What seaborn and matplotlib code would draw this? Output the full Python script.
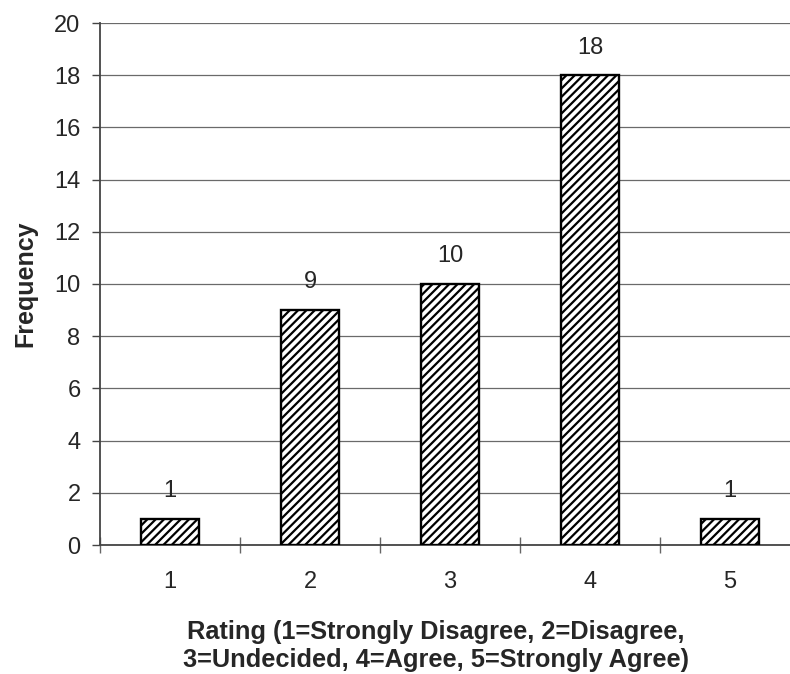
import matplotlib
matplotlib.use("Agg")
import matplotlib.pyplot as plt
import seaborn as sns
import pandas as pd
from matplotlib.ticker import FixedLocator

ratings = ["1", "2", "3", "4", "5"]
frequency = [1, 9, 10, 18, 1]
y_ticks = [0, 2, 4, 6, 8, 10, 12, 14, 16, 18, 20]

df = pd.DataFrame({"Rating": ratings, "Frequency": frequency})

sns.set_style("white")
plt.rcParams["font.family"] = ["Liberation Sans", "DejaVu Sans"]
plt.rcParams["hatch.linewidth"] = 1.6
plt.rcParams["hatch.color"] = "black"

fig = plt.figure(figsize=(7.9, 6.74), dpi=100)
ax = fig.add_axes([100 / 790, 1 - 545 / 674, 700 / 790, 522 / 674])

sns.barplot(data=df, x="Rating", y="Frequency", ax=ax, color="white",
            width=0.41, edgecolor="black", linewidth=1.7, zorder=3)
for p in ax.patches:
    p.set_hatch("////")
    p.set_facecolor("white")

ax.set_ylim(0, 20)
ax.set_xlim(-0.5, 4.5)
ax.set_yticks(y_ticks)
ax.yaxis.grid(True, color="#6a6a6a", linewidth=0.9, zorder=0)
ax.xaxis.grid(False)

for c in ax.containers:
    ax.bar_label(c, labels=[str(v) for v in frequency], padding=12, fontsize=17)

for s in ["top", "right"]:
    ax.spines[s].set_visible(False)
for s in ["left", "bottom"]:
    ax.spines[s].set_color("#444444")
    ax.spines[s].set_linewidth(1.3)

ax.tick_params(axis="y", which="major", direction="out", length=6, width=1.0,
               color="#444444", labelsize=17, pad=8, left=True)
ax.tick_params(axis="x", which="major", length=0, labelsize=17, pad=19)
ax.xaxis.set_minor_locator(FixedLocator([-0.5, 0.5, 1.5, 2.5, 3.5]))
ax.tick_params(axis="x", which="minor", direction="inout", length=11, width=1.0,
               color="#666666", bottom=True)

ax.set_xlabel("")
ax.set_ylabel("Frequency", fontsize=18, fontweight="bold", labelpad=12)

fig.text(436 / 790, 1 - 632 / 674, "Rating (1=Strongly Disagree, 2=Disagree,",
         ha="center", va="center", fontsize=18.3, fontweight="bold")
fig.text(436 / 790, 1 - 660 / 674, "3=Undecided, 4=Agree, 5=Strongly Agree)",
         ha="center", va="center", fontsize=18.3, fontweight="bold")

fig.savefig("out.png", dpi=100)
